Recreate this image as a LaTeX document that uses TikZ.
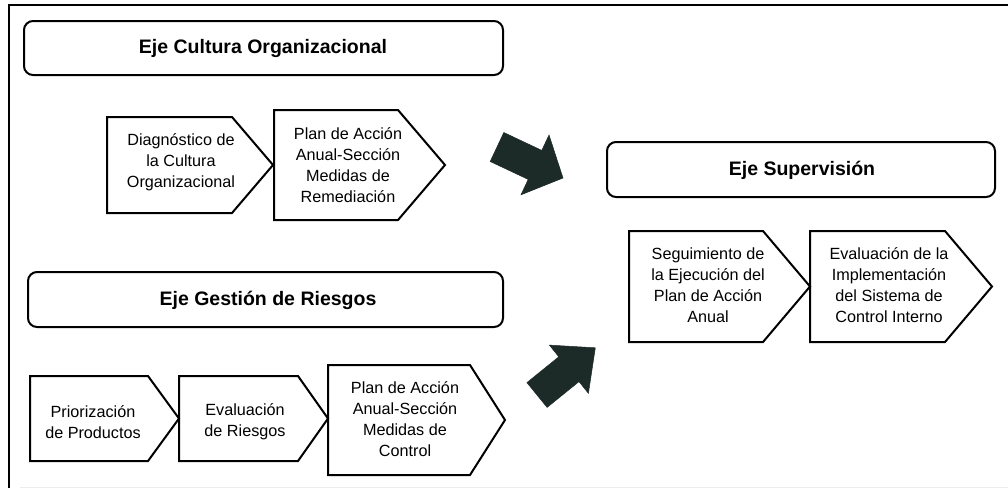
\documentclass[tikz,border=0pt]{standalone}
\usepackage{fontspec}
\setmainfont{Liberation Sans}
\begin{document}
\begin{tikzpicture}[x=1pt,y=-1pt,
  frame/.style={line width=2pt,black},
  titlebox/.style={draw,line width=2pt,rounded corners=9pt},
  chevshape/.style={draw,line width=2pt,line join=miter},
  titletext/.style={font=\fontsize{19.5}{23}\selectfont\bfseries,inner sep=0pt},
  chevtext/.style={font=\fontsize{16.2}{21}\selectfont,align=center,inner sep=0pt},
  bigarrow/.style={fill=arrowcol,draw=arrowcol,line width=0.5pt,line join=miter}]
\definecolor{arrowcol}{RGB}{28,42,40}
\useasboundingbox (0,0) rectangle (1008,488);
% outer frame (top and left)
\coordinate (ftl) at (9,5);
\coordinate (ftr) at (1008,5);
\coordinate (fbl) at (9,488);
\draw[frame] (ftr) -- (ftl) -- (fbl);
\coordinate (fbl2) at (20,487);
\coordinate (fbr2) at (1008,487);
\draw[gray!15,line width=1pt] (fbl2) -- (fbr2);

% title boxes
\draw[titlebox] (24,21) rectangle (503,75);
\node[titletext] (tcul) at (263,48) {Eje Cultura Organizacional};
\draw[titlebox] (28,272) rectangle (503,327);
\node[titletext] (tges) at (268,300) {Eje Gestión de Riesgos};
\draw[titlebox] (607,142) rectangle (995,197);
\node[titletext] (tsup) at (802,170) {Eje Supervisión};

% chevron macro: left, top, bottom, shoulder, tip
\newcommand{\mychev}[5]{\draw[chevshape] (#1,#2) -- (#4,#2) -- (#5,{(#2+#3)/2}) -- (#4,#3) -- (#1,#3) -- cycle;}

% Cultura
\mychev{107}{117}{213}{232}{273}
\node[chevtext] (c1) at (181,162) {Diagnóstico de\\la Cultura\\Organizacional};
\mychev{274}{110}{220}{398}{445}
\node[chevtext] (c2) at (348,165) {Plan de Acción\\Anual-Sección\\Medidas de\\Remediación};

% Riesgos
\mychev{30}{376}{461}{148}{179}
\node[chevtext] (r1) at (93,422) {Priorización\\de Productos};
\mychev{179}{376}{461}{298}{328}
\node[chevtext] (r2) at (245,422) {Evaluación\\de Riesgos};
\mychev{328}{365}{475}{470}{505}
\node[chevtext] (r3) at (405,419) {Plan de Acción\\Anual-Sección\\Medidas de\\Control};

% Supervision
\mychev{629}{231}{342}{763}{810}
\node[chevtext] (s1) at (708,285) {Seguimiento de\\la Ejecución del\\Plan de Acción\\Anual};
\mychev{810}{231}{342}{945}{992}
\node[chevtext] (s2) at (889,285) {Evaluación de la\\Implementación\\del Sistema de\\Control Interno};

% big arrows
\draw[bigarrow] (490.2,161.5) -- (503.8,132.5) -- (541.8,150.4) -- (549,135) -- (563,178) -- (521,194.8) -- (528.2,179.4) -- cycle;
\draw[bigarrow] (547.1,407.4) -- (526.9,382.6) -- (558.8,356.8) -- (549.4,345.1) -- (595.3,347.8) -- (588.4,393.3) -- (579,381.6) -- cycle;
\end{tikzpicture}
\end{document}
